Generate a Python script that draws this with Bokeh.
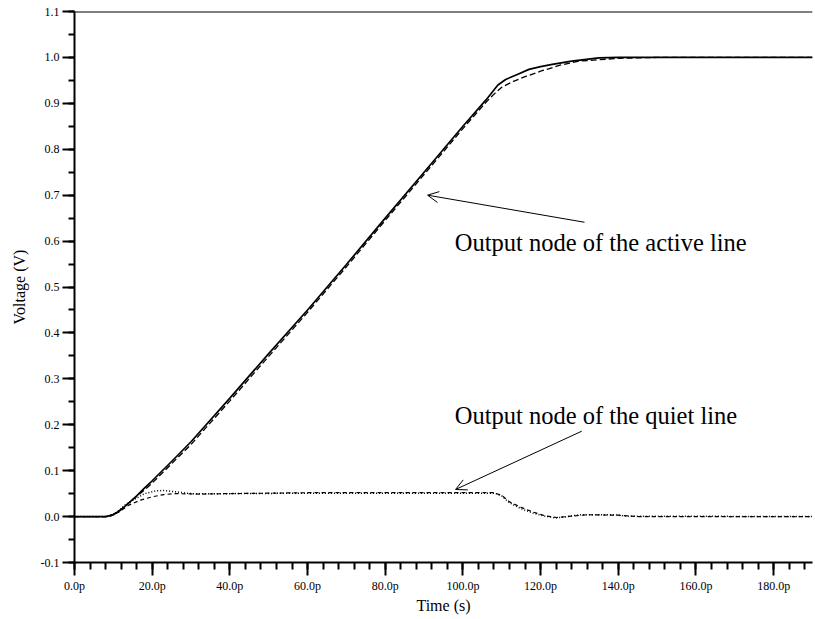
from bokeh.plotting import figure
from bokeh.models import (FixedTicker, Span, Arrow, OpenHead, Label, Range1d)
from bokeh.embed import file_html
from bokeh.resources import INLINE

# ---- data (time in ps, voltage in V) ----
active_solid_t = [0, 8, 10, 12, 14, 16, 18, 20, 25, 30, 40, 50, 60, 70, 80, 90, 100, 106,
                  109, 111, 114, 117, 120, 123, 128, 135, 140, 150, 190]
active_solid_v = [0, 0, 0.004, 0.015, 0.03, 0.045, 0.062, 0.078, 0.12, 0.163, 0.258, 0.355,
                  0.45, 0.549, 0.65, 0.75, 0.85, 0.908, 0.94, 0.952, 0.963, 0.974, 0.98,
                  0.985, 0.992, 0.999, 1.0, 1.0, 1.0]

active_dash_t = [0, 8, 10, 12, 14, 16, 18, 20, 25, 30, 40, 50, 60, 70, 80, 90, 100, 106,
                 108, 110, 113, 116, 120, 125, 130, 140, 150, 190]
active_dash_v = [0, 0, 0.005, 0.016, 0.03, 0.044, 0.058, 0.073, 0.115, 0.157, 0.252, 0.349,
                 0.445, 0.544, 0.645, 0.745, 0.845, 0.903, 0.92, 0.935, 0.948, 0.958, 0.97,
                 0.983, 0.992, 0.998, 1.0, 1.0]

quiet_dot_t = [0, 9, 11, 13, 16, 18, 21, 23, 26, 30, 40, 60, 80, 100, 108, 110, 112, 115,
               118, 121, 124, 127, 130, 139, 142, 190]
quiet_dot_v = [0, 0, 0.01, 0.025, 0.04, 0.05, 0.056, 0.057, 0.054, 0.05, 0.05, 0.051, 0.051,
               0.051, 0.051, 0.045, 0.03, 0.017, 0.008, 0.001, -0.003, 0.0, 0.004, 0.004,
               0.001, 0.0]

quiet_dash_t = [0, 9, 11.5, 14, 17, 20, 23, 26, 32, 40, 60, 80, 100, 108, 110, 112, 115, 118,
                121, 124, 128, 132, 140, 145, 190]
quiet_dash_v = [0, 0, 0.01, 0.025, 0.036, 0.043, 0.048, 0.05, 0.049, 0.05, 0.052, 0.052,
                0.052, 0.052, 0.046, 0.032, 0.02, 0.01, 0.002, -0.002, 0.001, 0.004, 0.003,
                0.0, 0.0]

x_ticks = [0, 20, 40, 60, 80, 100, 120, 140, 160, 180]
x_tick_labels = ["0.0p", "20.0p", "40.0p", "60.0p", "80.0p", "100.0p", "120.0p",
                 "140.0p", "160.0p", "180.0p"]
x_minor = [i * 4 for i in range(0, 48)]
y_ticks = [-0.1, 0.0, 0.1, 0.2, 0.3, 0.4, 0.5, 0.6, 0.7, 0.8, 0.9, 1.0, 1.1]
y_tick_labels = ["-0.1", "0.0", "0.1", "0.2", "0.3", "0.4", "0.5", "0.6", "0.7", "0.8",
                 "0.9", "1.0", "1.1"]
y_minor = [round(-0.1 + 0.05 * i, 3) for i in range(0, 25)]

FONT = "Liberation Serif"

p = figure(width=813, height=616, output_backend="svg", toolbar_location=None,
           x_range=Range1d(0, 190), y_range=Range1d(-0.1, 1.1),
           min_border_left=74, min_border_right=1, min_border_top=11, min_border_bottom=54)
p.outline_line_color = None
p.xgrid.visible = False
p.ygrid.visible = False
p.background_fill_color = "white"

p.line(active_solid_t, active_solid_v, line_color="black", line_width=1.7)
p.line(active_dash_t, active_dash_v, line_color="black", line_width=1.3, line_dash="6 3")
p.line(quiet_dot_t, quiet_dot_v, line_color="black", line_width=1.5, line_dash="1 2")
p.line(quiet_dash_t, quiet_dash_v, line_color="black", line_width=1.2, line_dash="4 3")

# axes
xa = p.xaxis[0]
xa.ticker = FixedTicker(ticks=x_ticks, minor_ticks=x_minor)
xa.major_label_overrides = {t: l for t, l in zip(x_ticks, x_tick_labels)}
xa.axis_label = "Time (s)"
ya = p.yaxis[0]
ya.ticker = FixedTicker(ticks=y_ticks, minor_ticks=y_minor)
ya.major_label_overrides = {t: l for t, l in zip(y_ticks, y_tick_labels)}
ya.axis_label = "Voltage (V)"

for ax in (xa, ya):
    ax.axis_line_width = 2
    ax.axis_line_color = "black"
    ax.major_tick_line_width = 2
    ax.minor_tick_line_width = 2
    ax.major_tick_line_color = "black"
    ax.minor_tick_line_color = "black"
    ax.major_tick_in = 0
    ax.minor_tick_in = 0
    ax.major_label_text_font = FONT
    ax.major_label_text_font_size = "12px"
    ax.major_label_text_color = "black"
    ax.axis_label_text_font = FONT
    ax.axis_label_text_font_style = "normal"
    ax.axis_label_text_font_size = "16px"
    ax.axis_label_text_color = "black"

xa.major_tick_out = 13
xa.minor_tick_out = 7
xa.major_label_standoff = 3
xa.axis_label_standoff = 1
ya.major_tick_out = 12
ya.minor_tick_out = 6
ya.major_label_standoff = 3
ya.axis_label_standoff = 10

# top border
p.add_layout(Span(location=1.1, dimension="width", line_color="black", line_width=2))

# annotations
p.add_layout(Arrow(end=OpenHead(size=11, line_width=1, line_color="black"),
                   x_start=131.3, y_start=0.641, x_end=90.9, y_end=0.700,
                   line_width=1, line_color="black"))
p.add_layout(Arrow(end=OpenHead(size=11, line_width=1, line_color="black"),
                   x_start=130.6, y_start=0.186, x_end=98.1, y_end=0.059,
                   line_width=1, line_color="black"))
p.add_layout(Label(x=97.9, y=0.597, text="Output node of the active line",
                   text_font=FONT, text_font_size="24.5px", text_color="black",
                   text_baseline="alphabetic"))
p.add_layout(Label(x=97.9, y=0.221, text="Output node of the quiet line",
                   text_font=FONT, text_font_size="24.5px", text_color="black",
                   text_baseline="alphabetic"))

open("out.html", "w").write(file_html(p, INLINE))
